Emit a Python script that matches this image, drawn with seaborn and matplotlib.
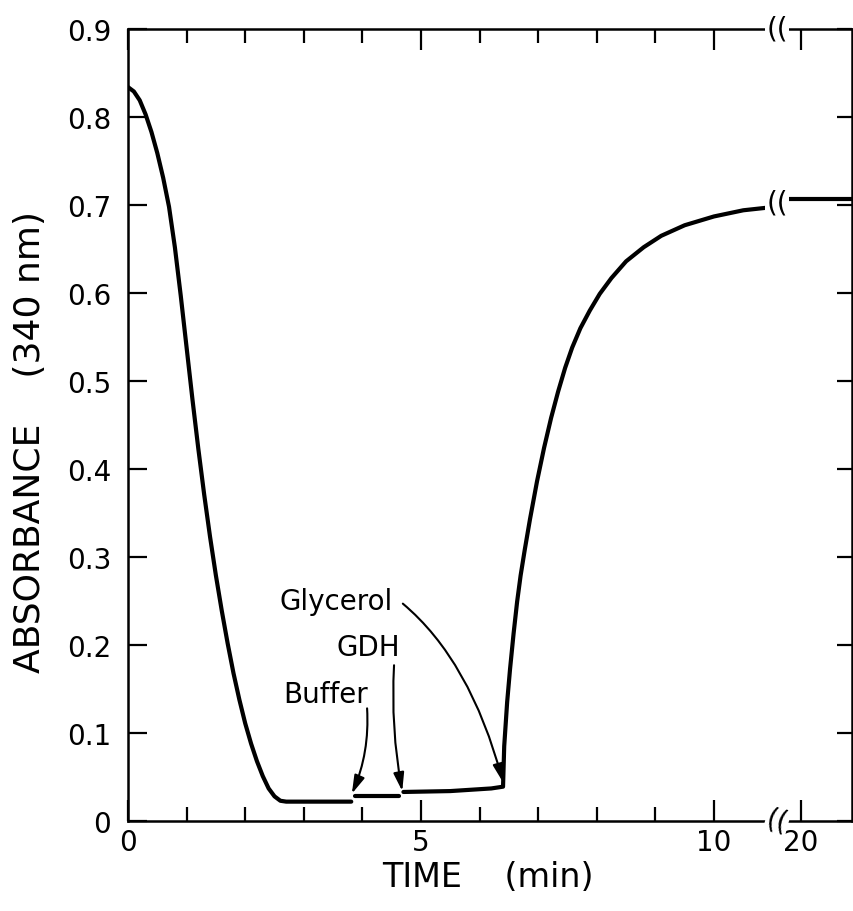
import numpy as np
import pandas as pd
import matplotlib
matplotlib.use("Agg")
import matplotlib.pyplot as plt
import matplotlib.transforms as mtransforms
from matplotlib.ticker import FixedLocator, NullLocator
import seaborn as sns

# ---------------- data ----------------
decay_time = [0.0, 0.1, 0.2, 0.3, 0.4, 0.5, 0.6, 0.7, 0.8, 0.9, 1.0, 1.1,
              1.2, 1.3, 1.4, 1.5, 1.6, 1.7, 1.8, 1.9, 2.0, 2.1, 2.2, 2.3,
              2.4, 2.5, 2.6, 2.7, 3.81]
decay_abs = [0.834, 0.829, 0.819, 0.803, 0.783, 0.759, 0.731, 0.698, 0.652,
             0.597, 0.538, 0.479, 0.423, 0.371, 0.323, 0.279, 0.239, 0.202,
             0.168, 0.138, 0.111, 0.088, 0.068, 0.051, 0.037, 0.028, 0.023,
             0.022, 0.022]

buffer_time = [3.88, 4.62]
buffer_abs = [0.028, 0.028]

gdh_time = [4.70, 5.5, 6.2, 6.40, 6.42, 6.47, 6.52, 6.58, 6.64, 6.70, 6.77,
            6.86, 6.98, 7.10, 7.22, 7.34, 7.46, 7.58, 7.72, 7.88, 8.05, 8.25,
            8.50, 8.80, 9.10, 9.50, 10.0, 10.5, 11.05]
gdh_abs = [0.033, 0.034, 0.037, 0.039, 0.085, 0.135, 0.173, 0.213, 0.249,
           0.279, 0.308, 0.343, 0.386, 0.424, 0.458, 0.488, 0.515, 0.538,
           0.560, 0.580, 0.599, 0.617, 0.636, 0.652, 0.665, 0.677, 0.687,
           0.694, 0.698]

late_time = [19.5, 21.0]
late_abs = [0.707, 0.707]

x_major_left = [0, 5, 10]
x_minor_left = [1, 2, 3, 4, 6, 7, 8, 9, 11]
x_major_right = [20]
y_ticks = [0, 0.1, 0.2, 0.3, 0.4, 0.5, 0.6, 0.7, 0.8, 0.9]
y_labels = ["0", "0.1", "0.2", "0.3", "0.4", "0.5", "0.6", "0.7", "0.8", "0.9"]

# arrow annotations: label, tip (time, abs), tail (time, abs)
ann_labels = ["Buffer", "GDH", "Glycerol"]
ann_tips = [(3.82, 0.031), (4.68, 0.034), (6.40, 0.044)]
ann_tails = [(4.08, 0.128), (4.54, 0.177), (4.69, 0.247)]

# ---------------- style ----------------
sns.set_theme(style="ticks")
plt.rcParams["font.family"] = ["DejaVu Sans"]
plt.rcParams["text.color"] = "black"
plt.rcParams["axes.labelcolor"] = "black"
plt.rcParams["xtick.color"] = "black"
plt.rcParams["ytick.color"] = "black"
plt.rcParams["axes.linewidth"] = 1.8

W, H = 854, 912
fig = plt.figure(figsize=(W / 100, H / 100), dpi=100)


def rect(x0, x1, y0, y1):
    return [x0 / W, 1 - y1 / H, (x1 - x0) / W, (y1 - y0) / H]


axL = fig.add_axes(rect(128, 777, 30, 822))
axR = fig.add_axes(rect(777, 852, 30, 822))

segs = pd.concat([
    pd.DataFrame({"time": decay_time, "absorbance": decay_abs, "segment": "decay"}),
    pd.DataFrame({"time": buffer_time, "absorbance": buffer_abs, "segment": "buffer"}),
    pd.DataFrame({"time": gdh_time, "absorbance": gdh_abs, "segment": "gdh"}),
], ignore_index=True)

sns.lineplot(data=segs, x="time", y="absorbance", units="segment",
             estimator=None, sort=False, color="black", lw=3.0, ax=axL,
             legend=False, solid_joinstyle="round")
sns.lineplot(x=late_time, y=late_abs, estimator=None, sort=False,
             color="black", lw=3.0, ax=axR, legend=False)

for ax in (axL, axR):
    ax.set_ylim(0, 0.9)
    ax.set_xlabel("")
    ax.set_ylabel("")
    ax.grid(False)
    for s in ax.spines.values():
        s.set_linewidth(1.8)
        s.set_color("black")

axL.set_xlim(0, 649 / 58.6)
axR.set_xlim(20 - 24 / 58.6, 20 + 51 / 58.6)

axL.spines["right"].set_visible(False)
axR.spines["left"].set_visible(False)

# x ticks
axL.xaxis.set_major_locator(FixedLocator(x_major_left))
axL.xaxis.set_minor_locator(FixedLocator(x_minor_left))
axL.set_xticklabels([str(v) for v in x_major_left])
axR.xaxis.set_major_locator(FixedLocator(x_major_right))
axR.xaxis.set_minor_locator(NullLocator())
axR.set_xticklabels([str(v) for v in x_major_right])

# y ticks
axL.yaxis.set_major_locator(FixedLocator(y_ticks))
axL.set_yticklabels(y_labels)
axR.yaxis.set_major_locator(FixedLocator(y_ticks))
axR.yaxis.set_minor_locator(NullLocator())

axL.tick_params(axis="x", which="major", direction="in", top=True, bottom=True,
                length=15, width=1.6, labelsize=20, pad=5, color="black",
                labelcolor="black")
axL.tick_params(axis="x", which="minor", direction="in", top=True, bottom=True,
                length=10, width=1.6, color="black")
axL.tick_params(axis="y", which="major", direction="in", left=True, right=False,
                length=14, width=1.6, labelsize=20, pad=12, color="black",
                labelcolor="black")
axL.tick_params(axis="y", which="minor", left=False, right=False)

axR.tick_params(axis="x", which="major", direction="in", top=True, bottom=True,
                length=15, width=1.6, labelsize=20, pad=5, color="black",
                labelcolor="black")
axR.tick_params(axis="y", which="major", direction="in", left=False, right=True,
                labelleft=False, labelright=False, length=11, width=1.6,
                color="black")

# axis labels
axL.set_ylabel("ABSORBANCE    (340 nm)", fontsize=26, color="black")
axL.yaxis.set_label_coords((30 - 128) / 649, (822 - 442) / 792)
axL.yaxis.label.set_verticalalignment("center")
axL.set_xlabel("TIME    (min)", fontsize=24, color="black")
axL.xaxis.set_label_coords((488 - 128) / 649, (822 - 878) / 792)
axL.xaxis.label.set_verticalalignment("center")

# annotations
label_pos = [(3.37, 0.144), (4.10, 0.198), (3.55, 0.250)]
styles = ["arc3,rad=-0.12", "arc3,rad=0.06", "angle3,angleA=-40,angleB=-75"]
for lab, pos, tip, tail, cs in zip(ann_labels, label_pos, ann_tips, ann_tails, styles):
    axL.text(pos[0], pos[1], lab, fontsize=20, ha="center", va="center",
             color="black")
    axL.annotate("", xy=tip, xytext=tail,
                 arrowprops=dict(arrowstyle="-|>,head_length=0.55,head_width=0.16",
                                 connectionstyle=cs, lw=1.5, color="black",
                                 mutation_scale=20, shrinkA=0, shrinkB=0))

# axis-break marks
bb = dict(facecolor="white", edgecolor="none", pad=0.5)
t_top = mtransforms.blended_transform_factory(axL.transAxes, axL.transAxes)
t_curve = mtransforms.blended_transform_factory(axL.transAxes, axL.transData)
fig.text(1.0, 1.0, "((", transform=t_top, fontsize=20, ha="center",
         va="center", bbox=bb, zorder=10)
fig.text(1.0, 0.703, "((", transform=t_curve, fontsize=20, ha="center",
         va="center", bbox=bb, zorder=10)
fig.text(1.0, 0.0, "((", transform=t_top, fontsize=20, ha="center",
         va="center", bbox=bb, zorder=10, rotation=-15)

fig.savefig("out.png", dpi=100, facecolor="white")
